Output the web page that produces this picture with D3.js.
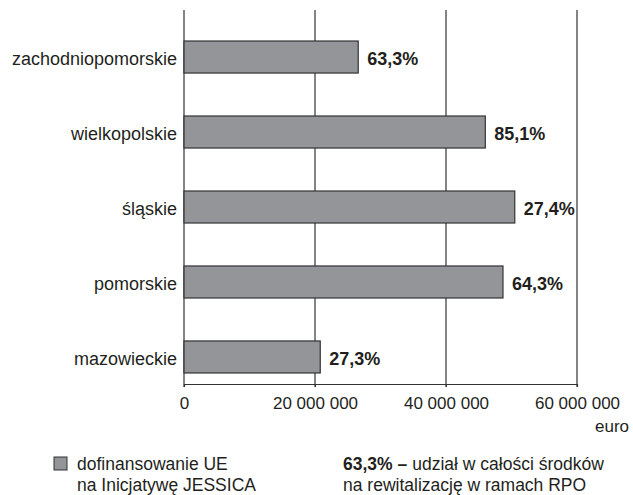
<!DOCTYPE html>
<html>
<head>
<meta charset="utf-8">
<script src="https://cdn.jsdelivr.net/npm/d3@7"></script>
<style>
  body { margin: 0; background: #fff; }
  text { font-family: "Liberation Sans", Arial, sans-serif; fill: #231f20; }
</style>
</head>
<body>
<div id="chart"></div>
<script>
// data
const regions = ["zachodniopomorskie", "wielkopolskie", "śląskie", "pomorskie", "mazowieckie"];
const funding = [26600000, 46000000, 50500000, 48700000, 20800000];
const shares = ["63,3%", "85,1%", "27,4%", "64,3%", "27,3%"];
const ticks = [0, 20000000, 40000000, 60000000];
const tickLabels = ["0", "20 000 000", "40 000 000", "60 000 000"];

const width = 633;
const height = 495;

const svg = d3.select("#chart").append("svg")
  .attr("width", width)
  .attr("height", height);

const x = d3.scaleLinear().domain([0, 60000000]).range([184, 577]);
const y = d3.scaleBand().domain(regions).range([19.5, 394.5]).paddingInner(0.573).paddingOuter(0.287);

const axisY = 384;
const topY = 10;

// gridlines
svg.append("g")
  .selectAll("line")
  .data(ticks)
  .join("line")
  .attr("x1", d => x(d))
  .attr("x2", d => x(d))
  .attr("y1", topY)
  .attr("y2", axisY + 3)
  .attr("stroke", "#333")
  .attr("stroke-width", 1.2);

// bottom axis
const xAxis = d3.axisBottom(x)
  .tickValues(ticks)
  .tickSize(3)
  .tickFormat((d, i) => tickLabels[i]);

const xAxisG = svg.append("g")
  .attr("transform", `translate(0,${axisY})`)
  .call(xAxis);
xAxisG.select(".domain").attr("stroke", "#333").attr("stroke-width", 1.2);
xAxisG.selectAll(".tick line").attr("stroke", "#333");
xAxisG.selectAll(".tick text")
  .attr("dy", null)
  .attr("y", 25)
  .style("font-family", "'Liberation Sans', Arial, sans-serif")
  .style("font-size", "17px")
  .attr("fill", "#231f20");

svg.append("text")
  .attr("x", 629)
  .attr("y", 432)
  .attr("text-anchor", "end")
  .style("font-size", "17px")
  .text("euro");

// bars
svg.append("g")
  .selectAll("rect")
  .data(regions)
  .join("rect")
  .attr("x", x(0))
  .attr("y", d => y(d))
  .attr("width", (d, i) => x(funding[i]) - x(0))
  .attr("height", y.bandwidth())
  .attr("fill", "#939598")
  .attr("stroke", "#333")
  .attr("stroke-width", 1.2);

// category labels
svg.append("g")
  .selectAll("text")
  .data(regions)
  .join("text")
  .attr("x", 177)
  .attr("y", d => y(d) + y.bandwidth() / 2)
  .attr("dy", "0.42em")
  .attr("text-anchor", "end")
  .style("font-size", "18px")
  .text(d => d);

// share labels
svg.append("g")
  .selectAll("text")
  .data(regions)
  .join("text")
  .attr("x", (d, i) => x(funding[i]) + 9)
  .attr("y", d => y(d) + y.bandwidth() / 2)
  .attr("dy", "0.42em")
  .style("font-size", "18px")
  .style("font-weight", "bold")
  .text((d, i) => shares[i]);

// legend
const legFont = "17.5px";
const line1 = 470;
const line2 = 491;
const leg = svg.append("g");
leg.append("rect")
  .attr("x", 54).attr("y", 457)
  .attr("width", 13).attr("height", 13)
  .attr("fill", "#939598")
  .attr("stroke", "#333");
leg.append("text").attr("x", 77).attr("y", line1).style("font-size", legFont).text("dofinansowanie UE");
leg.append("text").attr("x", 77).attr("y", line2).style("font-size", legFont).text("na Inicjatywę JESSICA");

// bold part and plain part as separate texts
const boldPart = leg.append("text").attr("x", 343).attr("y", line1)
  .style("font-size", legFont).style("font-weight", "bold").text("63,3% –");
const boldW = boldPart.node().getComputedTextLength();
leg.append("text").attr("x", 343 + boldW + 5).attr("y", line1)
  .style("font-size", legFont).text("udział w całości środków");
leg.append("text").attr("x", 343).attr("y", line2).style("font-size", legFont).text("na rewitalizację w ramach RPO");
</script>
</body>
</html>
